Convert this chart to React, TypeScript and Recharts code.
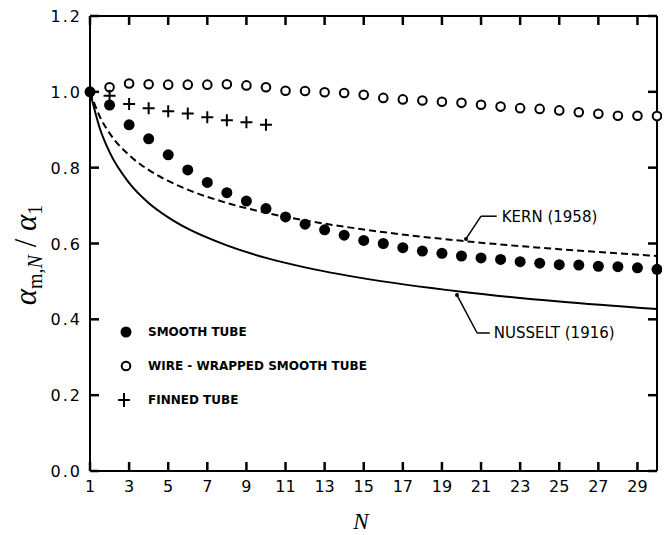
import {
  ComposedChart,
  Label,
  Legend,
  Line,
  ReferenceDot,
  ReferenceLine,
  Scatter,
  XAxis,
  YAxis,
} from 'recharts';

// number of tube rows N
const tubeRows = [
  1, 2, 3, 4, 5, 6, 7, 8, 9, 10, 11, 12, 13, 14, 15, 16, 17, 18, 19, 20,
  21, 22, 23, 24, 25, 26, 27, 28, 29, 30,
];
const smoothTube = [
  1.0, 0.965, 0.913, 0.876, 0.834, 0.794, 0.761, 0.734, 0.712, 0.692, 0.67,
  0.651, 0.636, 0.622, 0.608, 0.6, 0.589, 0.58, 0.574, 0.567, 0.562, 0.558,
  0.552, 0.548, 0.544, 0.543, 0.54, 0.539, 0.536, 0.532,
];

const wireRows = [
  2, 3, 4, 5, 6, 7, 8, 9, 10, 11, 12, 13, 14, 15, 16, 17, 18, 19, 20, 21,
  22, 23, 24, 25, 26, 27, 28, 29, 30,
];
const wireTube = [
  1.012, 1.022, 1.02, 1.019, 1.019, 1.019, 1.02, 1.017, 1.012, 1.003, 1.002,
  0.999, 0.997, 0.992, 0.984, 0.98, 0.977, 0.974, 0.971, 0.966, 0.961, 0.957,
  0.955, 0.951, 0.946, 0.942, 0.937, 0.937, 0.936,
];

const finnedRows = [2, 3, 4, 5, 6, 7, 8, 9, 10];
const finnedTube = [0.99, 0.968, 0.957, 0.949, 0.943, 0.933, 0.925, 0.92, 0.913];

const curveRows = [1, 1.5, 2, 3, 4, 5, 6, 8, 10, 12, 15, 20, 25, 30];
const kern1958 = [
  1.0, 0.935, 0.891, 0.833, 0.794, 0.765, 0.742, 0.707, 0.681, 0.661, 0.637,
  0.607, 0.585, 0.567,
];
const nusselt1916 = [
  1.0, 0.904, 0.841, 0.76, 0.707, 0.669, 0.639, 0.595, 0.562, 0.537, 0.508,
  0.473, 0.447, 0.427,
];

const xTicks = [1, 3, 5, 7, 9, 11, 13, 15, 17, 19, 21, 23, 25, 27, 29];
const yTicks = [0, 0.2, 0.4, 0.6, 0.8, 1.0, 1.2];

const pairs = (ns: number[], vs: number[]) => ns.map((N, i) => ({ N, v: vs[i] }));

const smoothData = pairs(tubeRows, smoothTube);
const wireData = pairs(wireRows, wireTube);
const finnedData = pairs(finnedRows, finnedTube);
const kernData = pairs(curveRows, kern1958);
const nusseltData = pairs(curveRows, nusselt1916);

const X_MIN = 1;
const X_MAX = 30;
const Y_MIN = 0;
const Y_MAX = 1.2;

// tick positions on the four sides of the frame
const bottomTicks = xTicks.map((N) => ({ N, v: Y_MIN }));
const topTicks = xTicks.map((N) => ({ N, v: Y_MAX }));
const leftTicks = yTicks.map((v) => ({ N: X_MIN, v }));
const rightTicks = yTicks.map((v) => ({ N: X_MAX, v }));

const SANS = 'DejaVu Sans, sans-serif';
const SERIF = 'Liberation Serif, Times New Roman, serif';
const TICK = 9;

const FilledDot = (p: any) => <circle cx={p.cx} cy={p.cy} r={5.5} fill="#000" />;
const OpenDot = (p: any) => (
  <circle cx={p.cx} cy={p.cy} r={4.3} fill="#fff" stroke="#000" strokeWidth={2} />
);
const Plus = (p: any) => (
  <path
    d={`M${p.cx - 6},${p.cy}H${p.cx + 6}M${p.cx},${p.cy - 6}V${p.cy + 6}`}
    stroke="#000"
    strokeWidth={2}
  />
);
const tickMark = (dx: number, dy: number) => (p: any) => (
  <path d={`M${p.cx},${p.cy}l${dx},${dy}`} stroke="#000" strokeWidth={2.5} fill="none" />
);

const BottomLabel = (p: any) => (
  <text x={p.x} y={p.y + 21} textAnchor="middle" fontFamily={SANS} fontSize={16} fill="#000">
    {p.payload.value}
  </text>
);
const LeftLabel = (p: any) => (
  <text
    x={p.x - 8}
    y={p.y + 6}
    textAnchor="end"
    fontFamily={SANS}
    fontSize={16}
    letterSpacing={2}
    fill="#000"
  >
    {Number(p.payload.value).toFixed(1)}
  </text>
);

const legendRows = [
  { name: 'SMOOTH TUBE', icon: <circle cx={12} cy={10} r={5.5} fill="#000" /> },
  {
    name: 'WIRE - WRAPPED SMOOTH TUBE',
    icon: <circle cx={12} cy={10} r={4.3} fill="#fff" stroke="#000" strokeWidth={2} />,
  },
  {
    name: 'FINNED TUBE',
    icon: <path d="M4,10H16M10,3V17" stroke="#000" strokeWidth={2} />,
  },
];

const renderLegend = () => (
  <div style={{ fontFamily: SANS, fontWeight: 'bold', fontSize: 12, color: '#000' }}>
    {legendRows.map((r) => (
      <div key={r.name} style={{ display: 'flex', alignItems: 'center', height: 34 }}>
        <svg width={24} height={20} style={{ marginRight: 10 }}>
          {r.icon}
        </svg>
        <span>{r.name}</span>
      </div>
    ))}
  </div>
);

const YTitle = () => (
  <text
    transform="translate(36,255) rotate(-90)"
    textAnchor="middle"
    fontFamily={SERIF}
    fontSize={31}
    fill="#000"
  >
    <tspan fontStyle="italic">α</tspan>
    <tspan fontSize={20} dy={6}>m,</tspan>
    <tspan fontSize={20} fontStyle="italic">N</tspan>
    <tspan dy={-6}> / </tspan>
    <tspan fontStyle="italic">α</tspan>
    <tspan fontSize={20} dy={6}>1</tspan>
  </text>
);

const XTitle = () => (
  <text x={361} y={529} textAnchor="middle" fontFamily={SERIF} fontStyle="italic" fontSize={23} fill="#000">
    N
  </text>
);

const axisStyle = { stroke: '#000', strokeWidth: 2 };

export default function App() {
  return (
    <div style={{ margin: '-8px 0 0 -8px', width: 670, height: 535, background: '#fff' }}>
      <ComposedChart width={670} height={535} margin={{ top: 15, right: 12, bottom: 0, left: 0 }}>
        <XAxis
          xAxisId="b"
          dataKey="N"
          type="number"
          domain={[X_MIN, X_MAX]}
          ticks={xTicks}
          interval={0}
          height={64}
          tickSize={0}
          tickMargin={0}
          axisLine={axisStyle}
          tickLine={false}
          tick={BottomLabel}
        >
          <Label content={<XTitle />} />
        </XAxis>
        <XAxis
          xAxisId="t"
          orientation="top"
          dataKey="N"
          type="number"
          domain={[X_MIN, X_MAX]}
          height={1}
          axisLine={axisStyle}
          tickLine={false}
          tick={false}
        />
        <YAxis
          yAxisId="l"
          dataKey="v"
          type="number"
          domain={[Y_MIN, Y_MAX]}
          ticks={yTicks}
          interval={0}
          width={90}
          tickSize={0}
          tickMargin={0}
          axisLine={axisStyle}
          tickLine={false}
          tick={LeftLabel}
        >
          <Label content={<YTitle />} />
        </YAxis>
        <YAxis
          yAxisId="r"
          orientation="right"
          dataKey="v"
          type="number"
          domain={[Y_MIN, Y_MAX]}
          width={1}
          axisLine={axisStyle}
          tickLine={false}
          tick={false}
        />
        <Legend
          content={renderLegend}
          layout="horizontal"
          verticalAlign="middle"
          align="center"
          wrapperStyle={{ left: 114, top: 315, width: 320 }}
        />

        {/* inward tick marks */}
        <Scatter xAxisId="b" yAxisId="l" data={bottomTicks} dataKey="v" shape={tickMark(0, -TICK)} legendType="none" isAnimationActive={false} />
        <Scatter xAxisId="b" yAxisId="l" data={topTicks} dataKey="v" shape={tickMark(0, TICK)} legendType="none" isAnimationActive={false} />
        <Scatter xAxisId="b" yAxisId="l" data={leftTicks} dataKey="v" shape={tickMark(TICK, 0)} legendType="none" isAnimationActive={false} />
        <Scatter xAxisId="b" yAxisId="l" data={rightTicks} dataKey="v" shape={tickMark(-TICK, 0)} legendType="none" isAnimationActive={false} />

        <Line
          xAxisId="b"
          yAxisId="l"
          data={nusseltData}
          dataKey="v"
          type="monotone"
          stroke="#000"
          strokeWidth={2}
          dot={false}
          legendType="none"
          isAnimationActive={false}
        />
        <Line
          xAxisId="b"
          yAxisId="l"
          data={kernData}
          dataKey="v"
          type="monotone"
          stroke="#000"
          strokeWidth={2}
          strokeDasharray="7 4"
          dot={false}
          legendType="none"
          isAnimationActive={false}
        />

        {/* leader for KERN */}
        <ReferenceLine
          xAxisId="b"
          yAxisId="l"
          segment={[{ x: 20.23, y: 0.612 }, { x: 21.0, y: 0.672 }]}
          stroke="#000"
          strokeWidth={1.5}
        />
        <ReferenceLine
          xAxisId="b"
          yAxisId="l"
          segment={[{ x: 21.0, y: 0.672 }, { x: 21.8, y: 0.672 }]}
          stroke="#000"
          strokeWidth={1.5}
        />
        <ReferenceDot xAxisId="b" yAxisId="l" x={20.23} y={0.612} r={2} fill="#000" stroke="none" />
        <ReferenceDot xAxisId="b" yAxisId="l" x={21.8} y={0.672} r={0} stroke="none">
          <Label value="KERN (1958)" position="right" offset={5} fill="#000" fontSize={15} fontFamily={SANS} />
        </ReferenceDot>

        {/* leader for NUSSELT */}
        <ReferenceLine
          xAxisId="b"
          yAxisId="l"
          segment={[{ x: 19.77, y: 0.464 }, { x: 20.8, y: 0.364 }]}
          stroke="#000"
          strokeWidth={1.5}
        />
        <ReferenceLine
          xAxisId="b"
          yAxisId="l"
          segment={[{ x: 20.8, y: 0.364 }, { x: 21.45, y: 0.364 }]}
          stroke="#000"
          strokeWidth={1.5}
        />
        <ReferenceDot xAxisId="b" yAxisId="l" x={19.77} y={0.464} r={2} fill="#000" stroke="none" />
        <ReferenceDot xAxisId="b" yAxisId="l" x={21.45} y={0.364} r={0} stroke="none">
          <Label value="NUSSELT (1916)" position="right" offset={4} fill="#000" fontSize={15} fontFamily={SANS} />
        </ReferenceDot>

        <Scatter
          xAxisId="b"
          yAxisId="l"
          name="WIRE - WRAPPED SMOOTH TUBE"
          data={wireData}
          dataKey="v"
          shape={OpenDot}
          isAnimationActive={false}
        />
        <Scatter
          xAxisId="b"
          yAxisId="l"
          name="FINNED TUBE"
          data={finnedData}
          dataKey="v"
          shape={Plus}
          isAnimationActive={false}
        />
        <Scatter
          xAxisId="b"
          yAxisId="l"
          name="SMOOTH TUBE"
          data={smoothData}
          dataKey="v"
          shape={FilledDot}
          isAnimationActive={false}
        />
      </ComposedChart>
    </div>
  );
}
